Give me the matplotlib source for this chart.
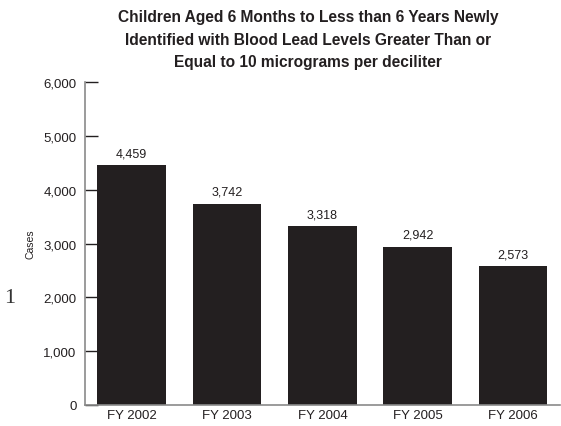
import matplotlib
matplotlib.use("Agg")
import matplotlib.pyplot as plt

years = ["FY 2002", "FY 2003", "FY 2004", "FY 2005", "FY 2006"]
cases = [4459, 3742, 3318, 2942, 2573]
yticks = [0, 1000, 2000, 3000, 4000, 5000, 6000]

plt.rcParams["font.family"] = ["Liberation Sans", "DejaVu Sans"]

fig = plt.figure(figsize=(5.61, 4.27), dpi=100)
ax = fig.add_axes([0.1515, 0.0492, 0.8465, 0.7564])

x = range(len(years))
bars = ax.bar(x, cases, width=0.72, color="#231f20", zorder=2)
for xi, v in zip(x, cases):
    ax.text(xi, v + 110, f"{v:,}", ha="center", va="bottom", fontsize=9, color="#231f20")

ax.set_xlim(-0.49, 4.49)
ax.set_ylim(0, 6000)
ax.set_yticks(yticks)
ax.set_yticklabels([f"{t:,}" for t in yticks], fontsize=9.5, color="#231f20")
ax.set_xticks(list(x))
ax.set_xticklabels(years, fontsize=9.5, color="#231f20")
ax.tick_params(axis="y", direction="in", length=9, width=1, color="#231f20", pad=6)
ax.tick_params(axis="x", length=0, pad=3)

for side in ["top", "right"]:
    ax.spines[side].set_visible(False)
ax.spines["left"].set_color("#8a8a8a")
ax.spines["bottom"].set_color("#8a8a8a")
ax.spines["left"].set_linewidth(1.2)
ax.spines["bottom"].set_linewidth(1.2)

ax.set_ylabel("Cases", fontsize=7.5, color="#231f20", labelpad=6)

fig.text(0.549, 0.977,
         "Children Aged 6 Months to Less than 6 Years Newly\n"
         "Identified with Blood Lead Levels Greater Than or\n"
         "Equal to 10 micrograms per deciliter",
         ha="center", va="top", fontsize=11.2, fontweight="bold",
         color="#231f20", linespacing=1.65)

# stray page number at the left margin
fig.text(0.008, 0.29, "1", fontsize=16, family="Liberation Serif", color="#333333")

fig.savefig("out.png", dpi=100)
